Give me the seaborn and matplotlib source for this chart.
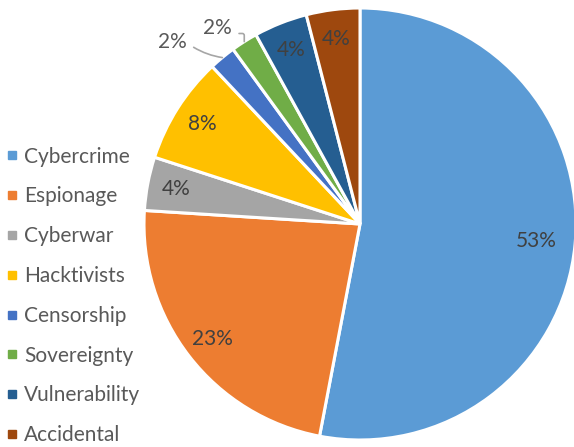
import numpy as np
import matplotlib
matplotlib.use("Agg")
import matplotlib.pyplot as plt
import seaborn as sns
from matplotlib.lines import Line2D

# data
categories = ["Cybercrime", "Espionage", "Cyberwar", "Hacktivists",
              "Censorship", "Sovereignty", "Vulnerability", "Accidental"]
shares = [53, 23, 4, 8, 2, 2, 4, 4]
colors = ["#5B9BD5", "#ED7D31", "#A5A5A5", "#FFC000",
          "#4472C4", "#70AD47", "#255E91", "#9E480E"]

sns.set_theme(style="white")
plt.rcParams["font.family"] = ["Lato", "DejaVu Sans"]
text_color = "#595959"
label_color = "#404040"

fig = plt.figure(figsize=(5.74, 4.47), dpi=100)
# pie axes centred at (360, 224) px with radius 216 px
ax = fig.add_axes([144 / 574, (447 - 224 - 216) / 447, 432 / 574, 432 / 447])

wedges, _ = ax.pie(shares, colors=sns.color_palette(colors), startangle=90,
                   counterclock=False, radius=1.0,
                   wedgeprops=dict(edgecolor="white", linewidth=2.2))
ax.set_xlim(-1, 1)
ax.set_ylim(-1, 1)
ax.set_aspect("equal")
ax.axis("off")

# percentage labels inside the larger slices
total = sum(shares)
cum = 0
for i, v in enumerate(shares):
    mid = np.deg2rad(90 - 360 * (cum + v / 2) / total)
    cum += v
    if v <= 2:
        continue
    dist = 0.82 if i == 0 else 0.865
    ax.text(dist * np.cos(mid), dist * np.sin(mid), f"{v / total * 100:.0f}%",
            ha="center", va="center", fontsize=15, color=label_color)

# small slices: outside labels with leader lines
outside = {4: (-0.87, 0.843), 5: (-0.66, 0.907)}
bends = {4: "arc3,rad=0.1", 5: "angle,angleA=0,angleB=90,rad=2"}
cum = sum(shares[:4])
for i in (4, 5):
    v = shares[i]
    mid = np.deg2rad(90 - 360 * (cum + v / 2) / total)
    cum += v
    lx, ly = outside[i]
    edge = (1.0 * np.cos(mid), 1.0 * np.sin(mid))
    ax.text(lx, ly, f"{v}%", ha="center", va="center", fontsize=15,
            color=text_color)
    ax.annotate("", xy=edge, xytext=(lx + 0.1, ly - 0.025),
                arrowprops=dict(arrowstyle="-", color="#A6A6A6", lw=1.2,
                                shrinkA=0, shrinkB=0, connectionstyle=bends[i]))

handles = [Line2D([0], [0], marker="s", linestyle="", markersize=5.5,
                  markerfacecolor=c, markeredgecolor=c) for c in colors]
leg = fig.legend(handles, categories, loc="center left",
                 bbox_to_anchor=(-0.005, 0.338), frameon=False, fontsize=15,
                 handlelength=0.6, handletextpad=0.3, labelspacing=0.95,
                 borderaxespad=0)
for t in leg.get_texts():
    t.set_color(text_color)

fig.savefig("out.png", dpi=100)
